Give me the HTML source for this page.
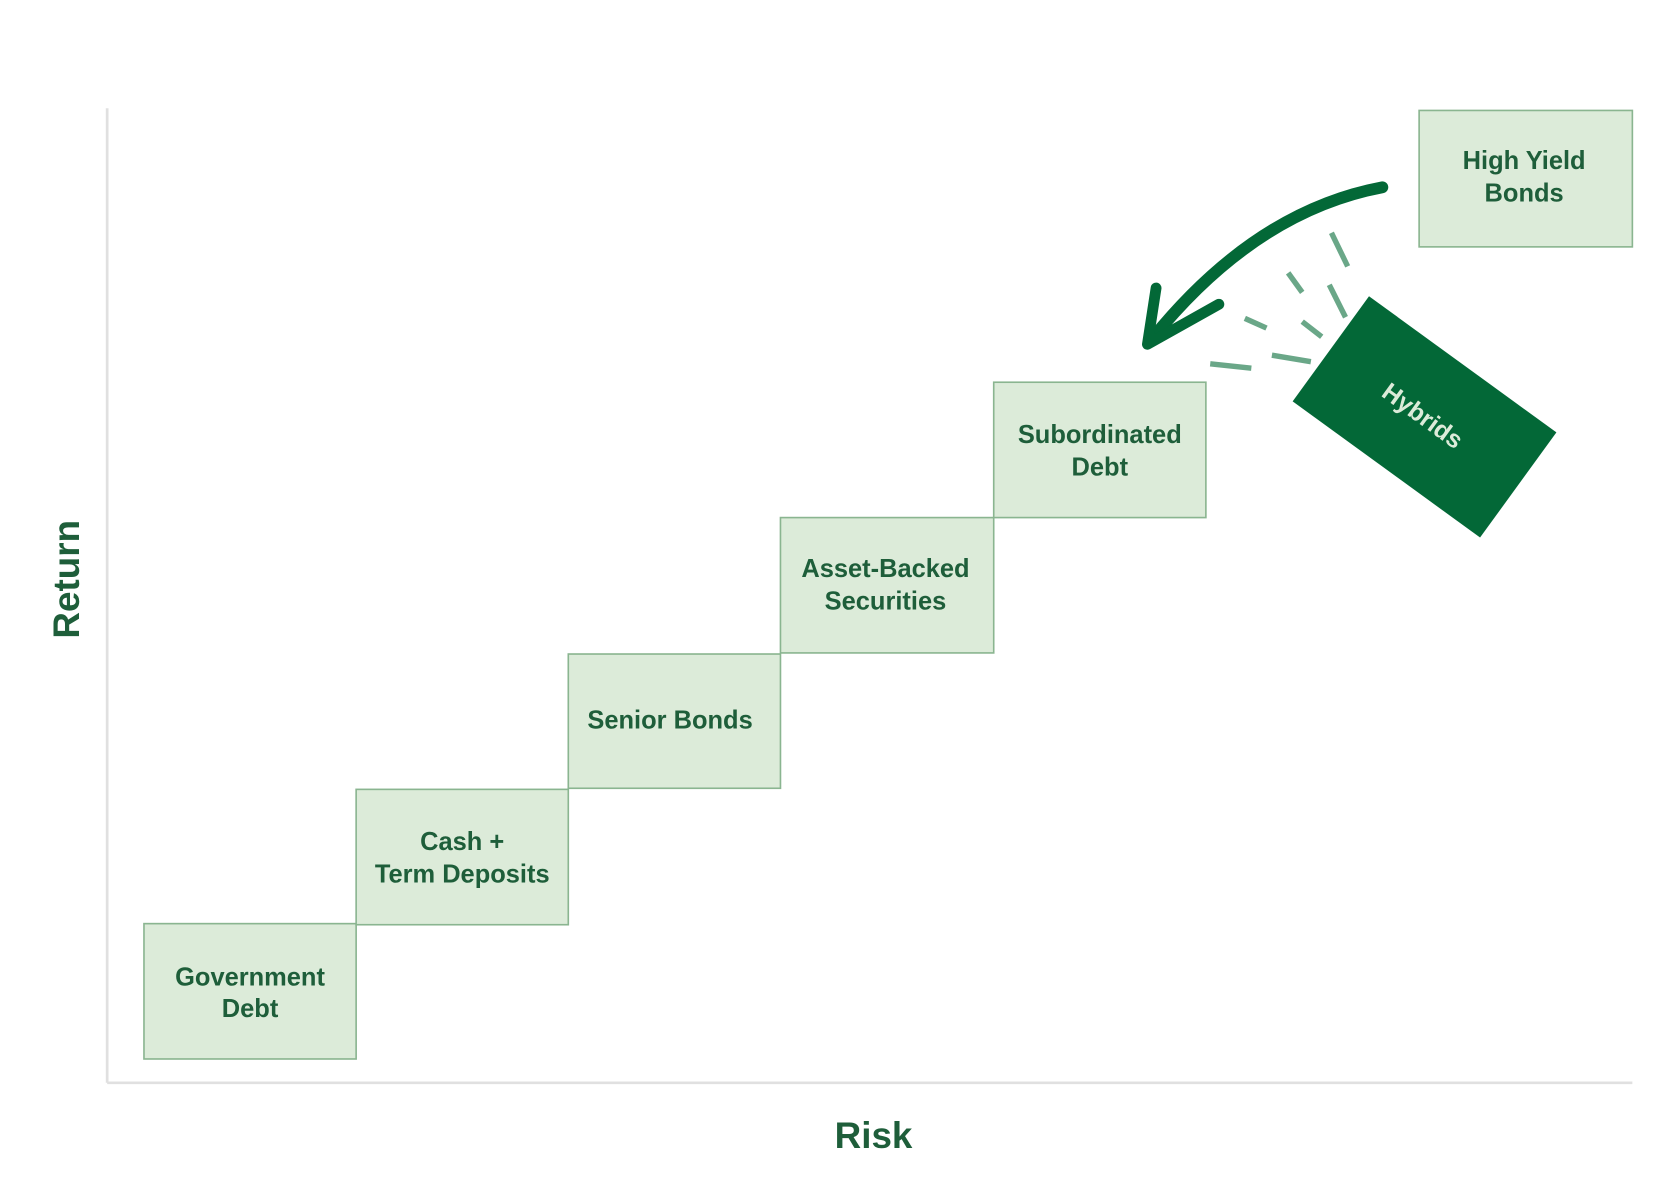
<!DOCTYPE html>
<html><head><meta charset="utf-8"><style>
html,body{margin:0;padding:0;background:#fff;width:1680px;height:1203px;overflow:hidden}
svg{display:block}
text{font-family:"Liberation Sans",sans-serif;font-weight:bold;fill:#1e5e3a}
</style></head><body>
<svg width="1680" height="1203" viewBox="0 0 1552 1111" preserveAspectRatio="none">
<g stroke="#e0e0e0" stroke-width="2.5" fill="none">
<line x1="99" y1="100" x2="99" y2="1000"/>
<line x1="99" y1="1000" x2="1508" y2="1000"/>
</g>
<g fill="#dcebd9" stroke="#8ab590" stroke-width="1.5">
<rect x="133" y="853" width="196" height="125"/>
<rect x="329" y="729" width="196" height="125"/>
<rect x="525" y="604" width="196" height="124"/>
<rect x="721" y="478" width="197" height="125"/>
<rect x="918" y="353" width="196" height="125"/>
<rect x="1311" y="102" width="197" height="126"/>
</g>
<g font-size="23.5" text-anchor="middle">
<text x="231" y="910">Government</text><text x="231" y="939">Debt</text>
<text x="427" y="785">Cash +</text><text x="427" y="815">Term Deposits</text>
<text x="619" y="673">Senior Bonds</text>
<text x="818" y="533">Asset-Backed</text><text x="818" y="563">Securities</text>
<text x="1016" y="409">Subordinated</text><text x="1016" y="439">Debt</text>
<text x="1408" y="156">High Yield</text><text x="1408" y="186">Bonds</text>
</g>
<text x="807" y="1060" font-size="34" text-anchor="middle">Risk</text>
<text transform="translate(73,535) rotate(-90)" font-size="34" text-anchor="middle">Return</text>
<g stroke="#6aa788" stroke-width="5" stroke-linecap="butt">
<line x1="1230" y1="215" x2="1245" y2="246"/>
<line x1="1190" y1="252" x2="1203" y2="270"/>
<line x1="1228" y1="263" x2="1243" y2="293"/>
<line x1="1150" y1="294" x2="1170" y2="303"/>
<line x1="1203" y1="297" x2="1221" y2="311"/>
<line x1="1118" y1="336" x2="1156" y2="340"/>
<line x1="1175" y1="328" x2="1211" y2="334"/>
</g>
<g stroke="#036837" fill="none" stroke-linecap="round" stroke-linejoin="round">
<path d="M1277 173 Q1160 195 1065 312" stroke-width="11"/>
<path d="M1068 266 L1060 318 L1126 281" stroke-width="10"/>
</g>
<g transform="translate(1316,385) rotate(36)">
<rect x="-107" y="-60" width="214" height="120" fill="#036837"/>
<text x="-2" y="8" font-size="23" text-anchor="middle" style="fill:#dcebd9;font-weight:bold">Hybrids</text>
</g>
</svg>
</body></html>
